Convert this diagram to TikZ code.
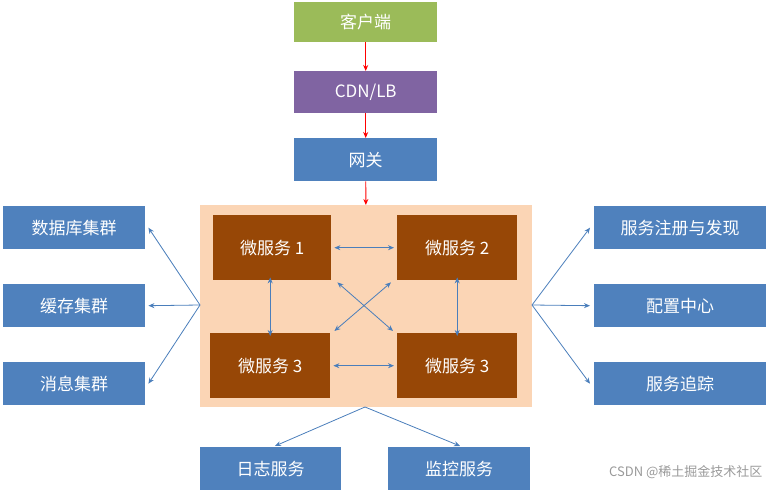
\documentclass[tikz,border=0pt]{standalone}
\usepackage{fontspec}
\setmainfont{Liberation Sans}
\newfontfamily\cjk{Noto Sans CJK SC}
\usetikzlibrary{arrows.meta}
\definecolor{cgreen}{HTML}{9BBB59}
\definecolor{cpurple}{HTML}{8064A2}
\definecolor{cblue}{HTML}{4F81BD}
\definecolor{cpeach}{HTML}{FBD5B5}
\definecolor{cbrown}{HTML}{974706}
\definecolor{cline}{HTML}{4A7EBB}
\begin{document}
\begin{tikzpicture}[x=1pt,y=-1pt,
 box/.style={draw=none,text=white,font=\cjk\fontsize{17}{20}\selectfont,inner sep=0},
 red/.style={draw=red,line width=0.9pt,-{Stealth[length=6pt,width=5pt]}},
 blu/.style={draw=cline,thick,-{Stealth[length=6pt,width=5pt]}},
 blu2/.style={draw=cline,thick,{Stealth[length=6pt,width=5pt]}-{Stealth[length=6pt,width=5pt]}}]
\useasboundingbox (0,0) rectangle (768,494);
\newcommand\bx[7]{\node[box,fill=#6,minimum width=#3pt,minimum height=#4pt,anchor=north west] (#7) at (#1,#2) {#5};}
\bx{294}{2}{143}{40}{客户端}{cgreen}{c}
\bx{294}{71}{143}{42}{CDN/LB}{cpurple}{cdn}
\bx{294}{138}{143}{43}{网关}{cblue}{gw}
\node[fill=cpeach,minimum width=332pt,minimum height=202pt,anchor=north west,inner sep=0] (ct) at (200,205) {};
\bx{213}{215}{118}{65}{微服务 1}{cbrown}{m1}
\bx{397}{215}{120}{65}{微服务 2}{cbrown}{m2}
\bx{210}{333}{120}{65}{微服务 3}{cbrown}{m3}
\bx{397}{333}{120}{65}{微服务 3}{cbrown}{m4}
\bx{3}{206}{142}{43}{数据库集群}{cblue}{l1}
\bx{3}{284}{142}{43}{缓存集群}{cblue}{l2}
\bx{3}{362}{142}{43}{消息集群}{cblue}{l3}
\bx{594}{206}{172}{43}{服务注册与发现}{cblue}{r1}
\bx{594}{284}{172}{43}{配置中心}{cblue}{r2}
\bx{594}{362}{172}{43}{服务追踪}{cblue}{r3}
\bx{200}{447}{141}{43}{日志服务}{cblue}{b1}
\bx{388}{447}{142}{43}{监控服务}{cblue}{b2}
\draw[red] (c) -- (cdn);
\draw[red] (cdn) -- (gw);
\draw[red] (gw) -- (ct);
\draw[blu2] ([xshift=3pt]m1.east) -- ([xshift=-3pt]m2.west);
\draw[blu2] ([xshift=3pt]m3.east) -- ([xshift=-3pt]m4.west);
\draw[blu2] ([yshift=3pt]m1.south) ++(-2,0) -- ([yshift=-3pt]m3.north);
\draw[blu2] ([yshift=3pt]m2.south) -- ([yshift=-3pt]m4.north);
\draw[blu2] ([shift={(-6,2)}]m2.south west) -- ([shift={(4,-2)}]m3.north east);
\draw[blu2] ([shift={(6,2)}]m1.south east) -- ([shift={(-4,-2)}]m4.north west);
\coordinate (cl) at (200,305); \coordinate (cr) at (532,305); \coordinate (cb) at (365,407);
\draw[blu] (cl) -- ([xshift=3pt]l1.east);
\draw[blu] (cl) -- ([xshift=3pt]l2.east);
\draw[blu] (cl) -- ([xshift=3pt]l3.east);
\draw[blu] (cr) -- ([xshift=-4pt]r1.west);
\draw[blu] (cr) -- ([xshift=-4pt]r2.west);
\draw[blu] (cr) -- ([xshift=-4pt]r3.west);
\draw[blu] (cb) -- (275,446);
\draw[blu] (cb) -- (460,446);
\node[text=gray,font=\cjk\fontsize{13}{15}\selectfont,anchor=east,opacity=0.8] (wm) at (766,472) {CSDN @稀土掘金技术社区};
\end{tikzpicture}
\end{document}
